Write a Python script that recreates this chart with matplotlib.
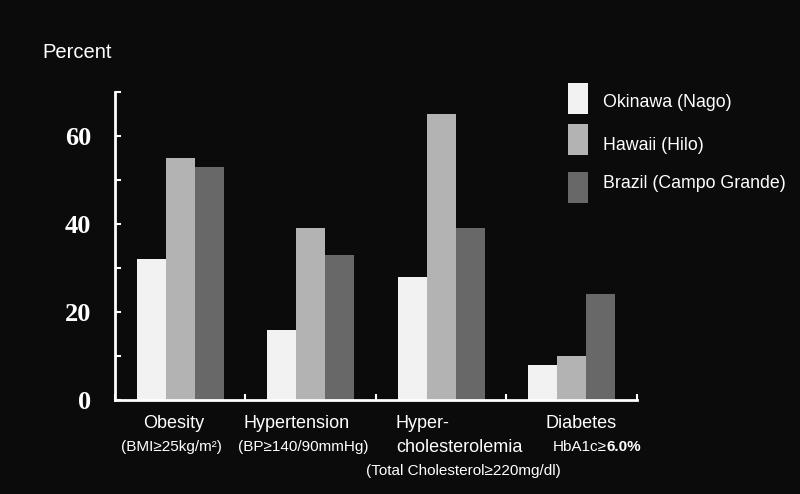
import numpy as np
import matplotlib
matplotlib.use("Agg")
import matplotlib.pyplot as plt
from matplotlib.patches import Rectangle
from matplotlib.transforms import blended_transform_factory

# data
categories = ["Obesity", "Hypertension", "Hypercholesterolemia", "Diabetes"]
series = ["Okinawa (Nago)", "Hawaii (Hilo)", "Brazil (Campo Grande)"]
okinawa = [32, 16, 28, 8]
hawaii = [55, 39, 65, 10]
brazil = [53, 33, 39, 24]
colors = ["#f2f2f2", "#b3b3b3", "#686868"]
y_ticks = [0, 20, 40, 60]

BG = "#0b0b0b"
W, H = 800, 494
plt.rcParams["font.family"] = ["Liberation Sans", "DejaVu Sans"]

fig = plt.figure(figsize=(W / 100, H / 100), dpi=100, facecolor=BG)
ax = fig.add_axes([115 / W, 1 - 400 / H, 522 / W, 308 / H])
ax.set_facecolor(BG)

x = np.arange(len(categories))
w = 0.222
for i, (vals, col, lab) in enumerate(zip([okinawa, hawaii, brazil], colors, series)):
    ax.bar(x + (i - 1) * w, vals, w, color=col, label=lab, edgecolor="none")

ax.set_xlim(-0.5, 3.5)
ax.set_ylim(0, 70)

# axes styling
for s in ["top", "right"]:
    ax.spines[s].set_visible(False)
for s in ["left", "bottom"]:
    ax.spines[s].set_color("white")
    ax.spines[s].set_linewidth(2)

ax.set_yticks(np.arange(0, 71, 10))
ax.set_yticklabels([str(v) if v in y_ticks else "" for v in range(0, 71, 10)])
ax.tick_params(axis="y", direction="in", length=4, width=1.5, colors="white", pad=17)
for t in ax.get_yticklabels():
    t.set_fontfamily("Liberation Serif")
    t.set_fontweight("bold")
    t.set_fontsize(19)

ax.set_xticks(np.arange(-0.5, 3.6, 1))
ax.set_xticklabels([])
ax.tick_params(axis="x", direction="in", length=4, width=1.5, colors="white")

fig.text(42 / W, 1 - 52 / H, "Percent", color="white", fontsize=14.5, va="center", ha="left")

# category labels
tr = blended_transform_factory(ax.transData, fig.transFigure)
y1 = 1 - 423 / H
y2 = 1 - 447 / H
y3 = 1 - 471 / H
big, small = 13, 11
ax.text(-0.05, y1, "Obesity", transform=tr, color="white", fontsize=big, ha="center", va="center")
ax.text(-0.07, y2, "(BMI≥25kg/m²)", transform=tr, color="white", fontsize=small, ha="center", va="center")
ax.text(0.89, y1, "Hypertension", transform=tr, color="white", fontsize=big, ha="center", va="center")
ax.text(0.94, y2, "(BP≥140/90mmHg)", transform=tr, color="white", fontsize=small, ha="center", va="center")
ax.text(1.653, y1, "Hyper-", transform=tr, color="white", fontsize=big, ha="left", va="center")
ax.text(1.653, y2, "cholesterolemia", transform=tr, color="white", fontsize=big, ha="left", va="center")
ax.text(2.167, y3, "(Total Cholesterol≥220mg/dl)", transform=tr, color="white", fontsize=small, ha="center", va="center")
ax.text(3.07, y1, "Diabetes", transform=tr, color="white", fontsize=big, ha="center", va="center")
t1 = ax.text(2.856, y2, "HbA1c≥", transform=tr, color="white", fontsize=small, ha="left", va="center")
ax.annotate("6.0%", xy=(1, 0.5), xycoords=t1, color="white", fontsize=small,
            fontweight="bold", ha="left", va="center")

# legend drawn by hand: tall swatches, text slightly offset
patch_tops = [83, 124, 172]
text_ys = [102, 146, 184]
for lab, col, top, ty in zip(series, colors, patch_tops, text_ys):
    fig.patches.append(Rectangle((568 / W, 1 - (top + 31) / H), 20 / W, 31 / H,
                                 transform=fig.transFigure, facecolor=col,
                                 edgecolor="none"))
    fig.text(603 / W, 1 - ty / H, lab, color="white", fontsize=12.8, va="center", ha="left")

fig.savefig("out.png", dpi=100, facecolor=BG)
